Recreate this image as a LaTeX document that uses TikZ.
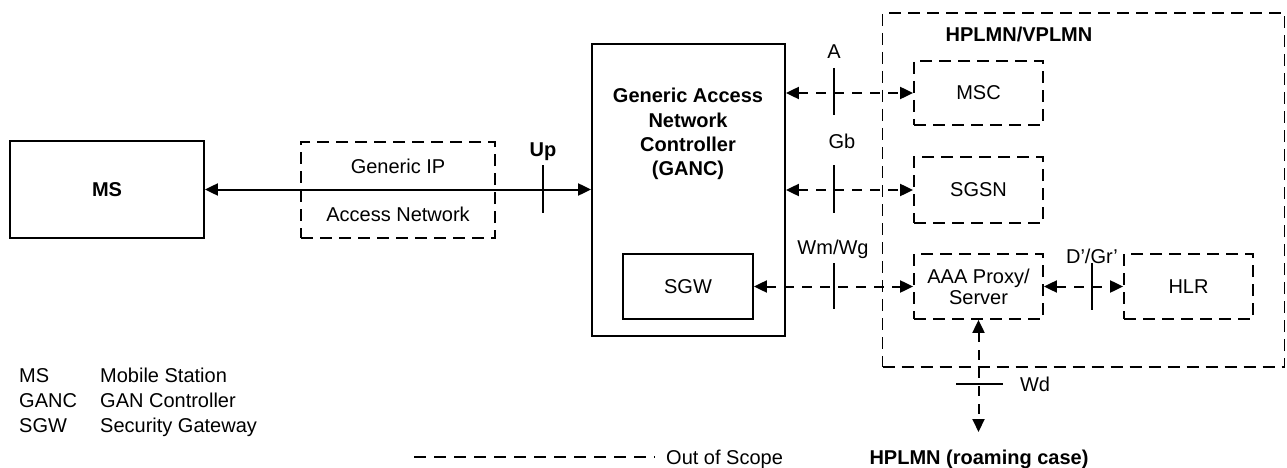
\documentclass[tikz,border=0pt]{standalone}
\usepackage{fontspec}
\setmainfont{Liberation Sans}
\usetikzlibrary{arrows.meta,calc}
\begin{document}
\begin{tikzpicture}[x=1pt,y=-1pt,
  box/.style={draw, line width=1.8pt, inner sep=0pt, font=\fontsize{20}{21}\selectfont, align=center},
  dbox/.style={box, dash pattern=on 12pt off 7pt},
  lbl/.style={inner sep=0pt, font=\fontsize{20}{24}\selectfont, anchor=base},
  blbl/.style={lbl, font=\bfseries\fontsize{20}{24}\selectfont},
  conn/.style={line width=2pt, {Triangle[length=13pt,width=12pt]}-{Triangle[length=13pt,width=12pt]}},
  dconn/.style={conn, dash pattern=on 10pt off 8pt},
  tickline/.style={line width=1.8pt},
  legline/.style={line width=1.8pt, dash pattern=on 12pt off 8pt}]
\useasboundingbox (0,0) rectangle (1287,468);

% main boxes
\node[box, minimum width=194pt, minimum height=97pt, font=\bfseries\fontsize{20}{21}\selectfont] (MS) at (107,189.5) {MS};
\node[dbox, minimum width=194pt, minimum height=96pt] (GIP) at (398,190) {};
\node[lbl] (gip1) at (398,173) {Generic IP};
\node[lbl] (gip2) at (398,221) {Access Network};
\node[box, minimum width=193pt, minimum height=292pt] (GANC) at (688.5,190) {};
\node[inner sep=0pt, align=center, font=\bfseries\fontsize{20}{24.3}\selectfont] (gtxt) at (688,134) {Generic Access\\Network\\Controller\\(GANC)};
\node[box, minimum width=130pt, minimum height=65pt] (SGW) at (688,286.5) {SGW};

% HPLMN/VPLMN
\node[dbox, minimum width=402pt, minimum height=354pt] (PLMN) at (1083.5,190) {};
\node[blbl] (plmnlbl) at (1019,42) {HPLMN/VPLMN};
\node[dbox, minimum width=129pt, minimum height=64pt] (MSC) at (978.5,93) {MSC};
\node[dbox, minimum width=129pt, minimum height=66pt] (SGSN) at (978.5,190) {SGSN};
\node[dbox, minimum width=129pt, minimum height=65pt] (AAA) at (978.5,286.5) {AAA Proxy/\\Server};
\node[dbox, minimum width=129pt, minimum height=65pt] (HLR) at (1188.5,286.5) {HLR};

% connectors
\draw[conn] (MS.east) -- (MS.east -| GANC.west);
\draw[dconn] (GANC.east |- MSC.west) -- (MSC.west);
\draw[dconn] (GANC.east |- SGSN.west) -- (SGSN.west);
\draw[dconn] (SGW.east) -- (AAA.west);
\draw[dconn] (AAA.east) -- (HLR.west);
\coordinate (wdend) at (979,432);
\draw[dconn] (AAA.south) -- (AAA.south |- wdend);

% interface ticks
\draw[tickline] (543,165) -- (543,213);
\draw[tickline] (834,68) -- (834,115);
\draw[tickline] (834,165) -- (834,213);
\draw[tickline] (834,263) -- (834,309);
\draw[tickline] (1092,263) -- (1092,310);
\draw[tickline] (956,384) -- (1003,384);

% interface labels
\node[blbl] (uplbl) at (543,156) {Up};
\node[lbl] (albl) at (834,59) {A};
\node[lbl] (gblbl) at (842,148) {Gb};
\node[lbl] (wmlbl) at (833,254) {Wm/Wg};
\node[lbl] (drlbl) at (1092,263) {D’/Gr’};
\node[lbl] (wdlbl) at (1035,391) {Wd};

% legend
\node[lbl, anchor=base west] (l1a) at (19,382) {MS};
\node[lbl, anchor=base west] (l1b) at (100,382) {Mobile Station};
\node[lbl, anchor=base west] (l2a) at (19,407) {GANC};
\node[lbl, anchor=base west] (l2b) at (100,407) {GAN Controller};
\node[lbl, anchor=base west] (l3a) at (19,432) {SGW};
\node[lbl, anchor=base west] (l3b) at (100,432) {Security Gateway};
\coordinate (legs) at (414,457);
\coordinate (lege) at (655,457);
\draw[legline] (legs) -- (lege);
\node[lbl, anchor=base west] (oos) at (666,464) {Out of Scope};
\node[blbl] (roam) at (979,464) {HPLMN (roaming case)};
\end{tikzpicture}
\end{document}
